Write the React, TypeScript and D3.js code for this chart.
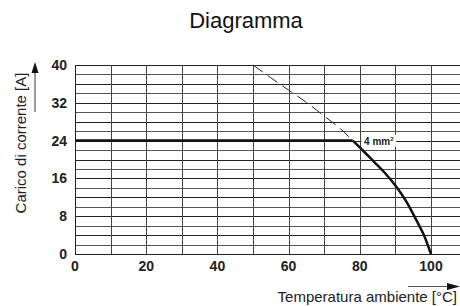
import React from 'react'
import * as d3 from 'd3'

const width = 460
const height = 306
const margin = { top: 65, right: 29, bottom: 52, left: 75 }

// grid / ticks
const xTicks = [0, 20, 40, 60, 80, 100]
const yTicks = [0, 8, 16, 24, 32, 40]
const xGrid = [0, 10, 20, 30, 40, 50, 60, 70, 80, 90, 100]
const yGrid = [0, 2, 4, 6, 8, 10, 12, 14, 16, 18, 20, 22, 24, 26, 28, 30, 32, 34, 36, 38, 40]

// 4 mm² derating curve
const flatTemp = [0, 78]
const flatCurrent = [24, 24]
const curveTemp = [78, 81, 84, 87, 90, 93, 96, 98, 100]
const curveCurrent = [24, 21.8, 19.5, 17.2, 14.5, 11.2, 7.0, 4.0, 0]
const dashTemp = [50, 55, 60, 65, 70, 75, 78]
const dashCurrent = [40, 37.3, 34.7, 32.1, 29.2, 26.2, 24]

const font = 'Liberation Sans, Arial, sans-serif'

export default function App() {
  const x = d3
    .scaleLinear()
    .domain([0, 100])
    .range([margin.left, width - margin.right])
  const y = d3
    .scaleLinear()
    .domain([0, 40])
    .range([height - margin.bottom, margin.top])

  const line = d3
    .line<[number, number]>()
    .x((d) => x(d[0]))
    .y((d) => y(d[1]))
  const smooth = d3
    .line<[number, number]>()
    .x((d) => x(d[0]))
    .y((d) => y(d[1]))
    .curve(d3.curveMonotoneX)

  const flat = flatTemp.map((t, i) => [t, flatCurrent[i]] as [number, number])
  const curve = curveTemp.map((t, i) => [t, curveCurrent[i]] as [number, number])
  const dash = dashTemp.map((t, i) => [t, dashCurrent[i]] as [number, number])

  const x0 = x(0)
  const xEnd = x(110)
  const yTop = y(40)
  const yBot = y(0)

  return (
    <svg
      width={width}
      height={height}
      style={{ position: 'absolute', left: 0, top: 0, background: '#fff' }}
    >
      <text x={246} y={28} textAnchor="middle" fontFamily={font} fontSize={22} fill="#111">
        Diagramma
      </text>

      {/* grid */}
      {yGrid.map((v) => (
        <line
          key={'h' + v}
          x1={x0}
          x2={xEnd}
          y1={Math.round(y(v)) + 0.5}
          y2={Math.round(y(v)) + 0.5}
          stroke={v % 4 === 0 ? '#222' : '#555'}
          strokeWidth={1}
        />
      ))}
      {xGrid.map((v) => (
        <line
          key={'v' + v}
          x1={Math.round(x(v)) + 0.5}
          x2={Math.round(x(v)) + 0.5}
          y1={yTop}
          y2={yBot}
          stroke={v === 0 ? '#222' : '#444'}
          strokeWidth={1}
        />
      ))}

      {/* curves */}
      <path d={smooth(dash) || ''} fill="none" stroke="#222" strokeWidth={1} strokeDasharray="12,6" />
      <path d={line(flat) || ''} fill="none" stroke="#111" strokeWidth={2.5} />
      <path d={smooth(curve) || ''} fill="none" stroke="#111" strokeWidth={2.5} />

      {/* curve label */}
      <rect x={x(80.5)} y={y(24) - 6} width={x(90.2) - x(80.5)} height={12} fill="#fff" />
      <text x={x(81.2)} y={y(24) + 4} fontFamily={font} fontSize={10} fontWeight="bold" fill="#222">
        4 mm
        <tspan fontSize={6} dy={-4}>2</tspan>
      </text>

      {/* tick labels */}
      {yTicks.map((v) => (
        <text
          key={'yt' + v}
          x={x0 - 8}
          y={y(v)}
          dy="0.36em"
          textAnchor="end"
          fontFamily={font}
          fontSize={14}
          fontWeight="bold"
          fill="#222"
        >
          {v}
        </text>
      ))}
      {xTicks.map((v) => (
        <text
          key={'xt' + v}
          x={x(v)}
          y={yBot + 17}
          textAnchor="middle"
          fontFamily={font}
          fontSize={14}
          fontWeight="bold"
          fill="#222"
        >
          {v}
        </text>
      ))}

      {/* axis titles and arrows */}
      <text
        transform={`translate(26,143) rotate(-90)`}
        textAnchor="middle"
        fontFamily={font}
        fontSize={15}
        fill="#222"
      >
        Carico di corrente [A]
      </text>
      <line x1={35} x2={35} y1={112} y2={70} stroke="#555" strokeWidth={1.2} />
      <path d="M35,62 L31.5,73 L38.5,73 Z" fill="#111" />

      <text x={457} y={302} textAnchor="end" fontFamily={font} fontSize={15} fill="#222">
        Temperatura ambiente [°C]
      </text>
      <line x1={408} x2={450} y1={286.5} y2={286.5} stroke="#555" strokeWidth={1.2} />
      <path d="M460,286.5 L447,283 L447,290 Z" fill="#111" />
    </svg>
  )
}
